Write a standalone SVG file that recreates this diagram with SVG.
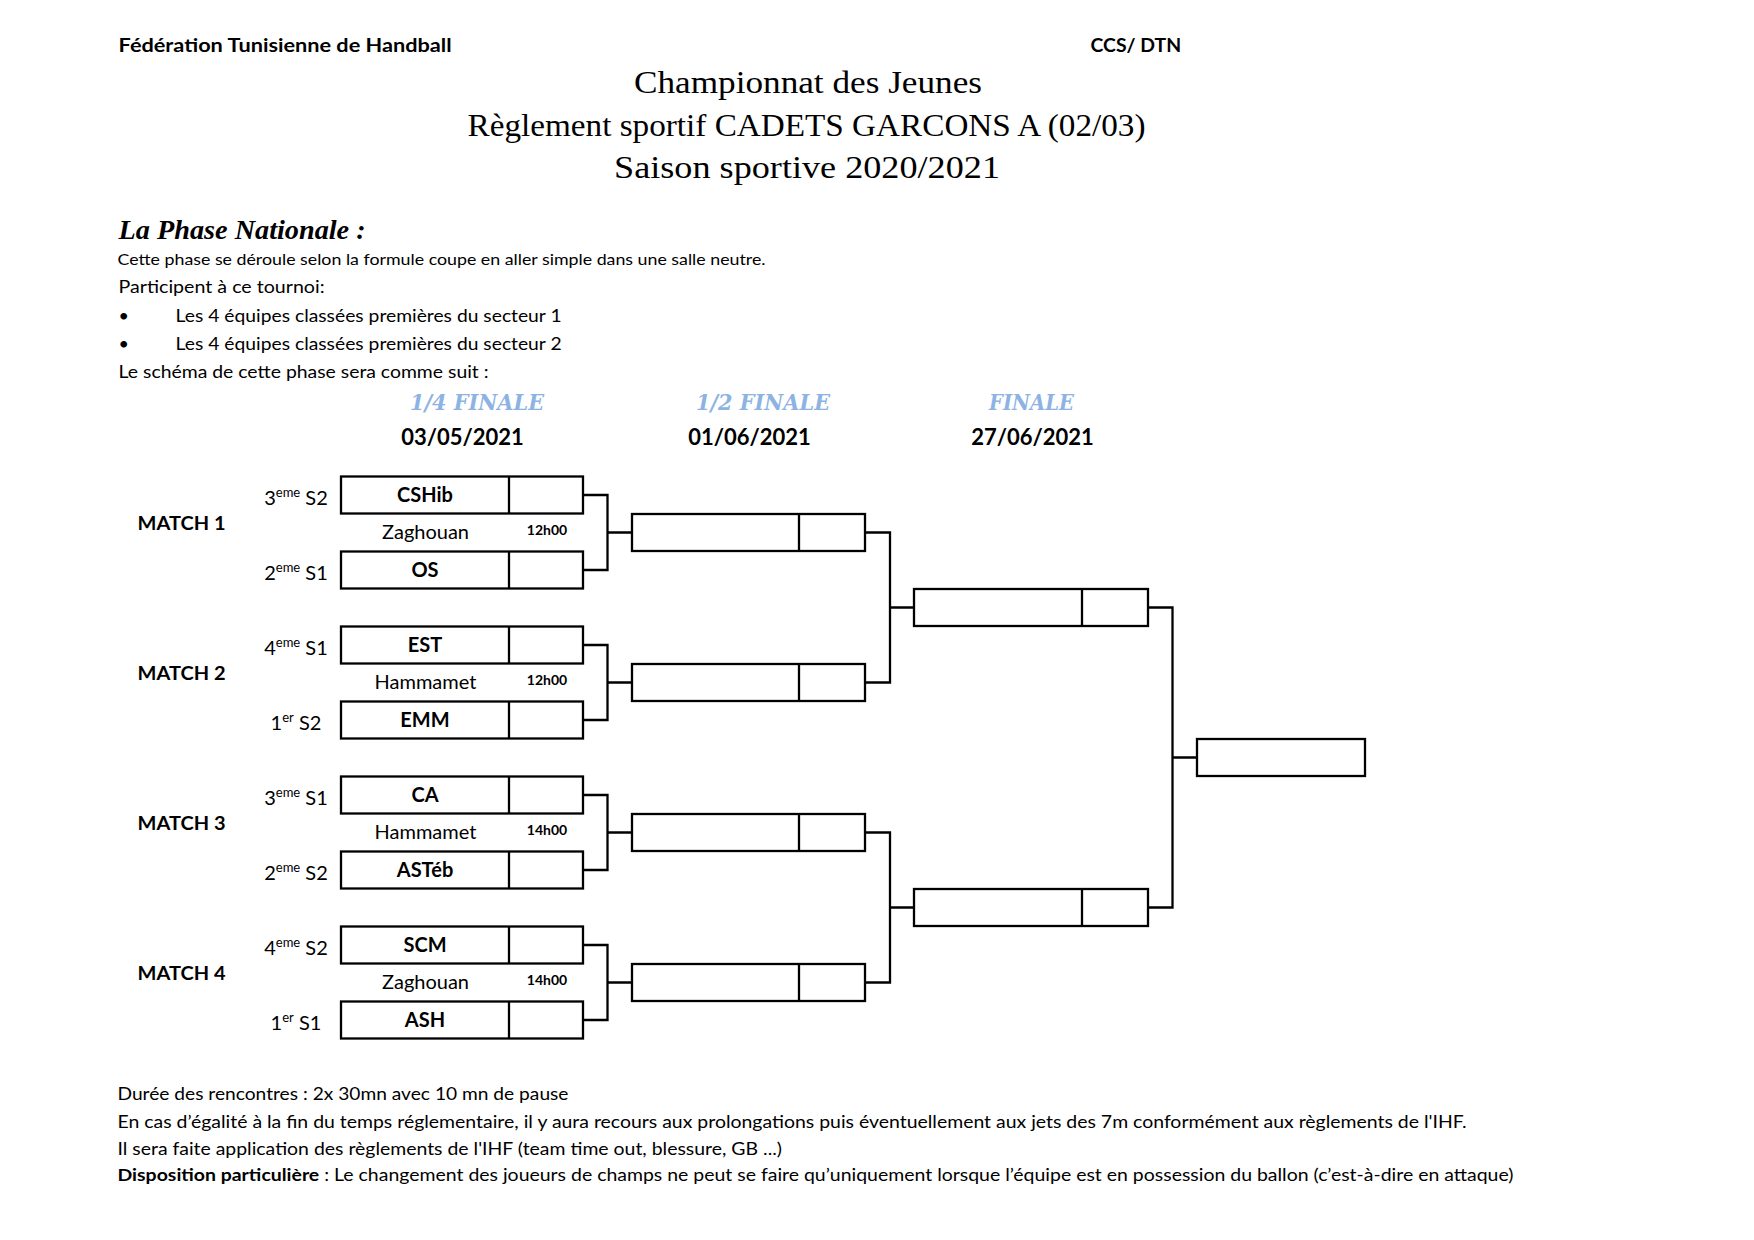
<svg xmlns="http://www.w3.org/2000/svg" width="1754" height="1240" viewBox="0 0 1754 1240">
<style>
.sans{font-family:Lato,"Liberation Sans",sans-serif;fill:#000}
.b{font-weight:700}
.serif{font-family:"Liberation Serif","DejaVu Serif",serif;fill:#000}
.hd{font-family:"DejaVu Serif","Liberation Serif",serif;font-weight:700;font-style:italic;fill:#8DB3E2}
.box{fill:#fff;stroke:#000;stroke-width:2.3}
.ln{fill:none;stroke:#000;stroke-width:2.3}
.team{font-family:Lato,"Liberation Sans",sans-serif;font-weight:700;font-size:20px;text-anchor:middle}
.seed{font-family:Lato,"Liberation Sans",sans-serif;font-size:20px;text-anchor:middle}
.sup{font-size:13px}
.venue{font-family:Lato,"Liberation Sans",sans-serif;font-size:20px;text-anchor:middle}
.time{font-family:Lato,"Liberation Sans",sans-serif;font-weight:700;font-size:14px;text-anchor:middle}
.match{font-family:Lato,"Liberation Sans",sans-serif;font-weight:700;font-size:19px}
.date{font-family:Lato,"Liberation Sans",sans-serif;font-weight:700;font-size:22px;text-anchor:middle}
</style>
<rect width="1754" height="1240" fill="#fff"/>

<g id="header">
<text class="sans b" x="118.6" y="51.5" font-size="19" textLength="333" lengthAdjust="spacingAndGlyphs">Fédération Tunisienne de Handball</text>
<text class="sans b" x="1090.6" y="51.5" font-size="19" textLength="90.6" lengthAdjust="spacingAndGlyphs">CCS/ DTN</text>
<text class="serif" x="808" y="93" font-size="31" text-anchor="middle" textLength="348" lengthAdjust="spacingAndGlyphs">Championnat des Jeunes</text>
<text class="serif" x="806.5" y="135.5" font-size="31" text-anchor="middle" textLength="678" lengthAdjust="spacingAndGlyphs">Règlement sportif CADETS GARCONS A (02/03)</text>
<text class="serif" x="807" y="178" font-size="31" text-anchor="middle" textLength="386" lengthAdjust="spacingAndGlyphs">Saison sportive 2020/2021</text>
</g>

<g id="intro">
<text class="serif" x="118.6" y="239" font-size="27" font-weight="700" font-style="italic" textLength="247" lengthAdjust="spacingAndGlyphs">La Phase Nationale :</text>
<text class="sans" x="117.5" y="265" font-size="16" textLength="648" lengthAdjust="spacingAndGlyphs">Cette phase se déroule selon la formule coupe  en aller  simple dans une salle neutre.</text>
<text class="sans" x="118.6" y="293" font-size="18" textLength="206" lengthAdjust="spacingAndGlyphs">Participent  à ce tournoi:</text>
<text class="sans" x="118.6" y="322" font-size="18">•</text>
<text class="sans" x="175.6" y="322" font-size="18" textLength="386" lengthAdjust="spacingAndGlyphs">Les 4 équipes classées premières du secteur 1</text>
<text class="sans" x="118.6" y="350" font-size="18">•</text>
<text class="sans" x="175.6" y="350" font-size="18" textLength="386" lengthAdjust="spacingAndGlyphs">Les 4 équipes classées premières du secteur 2</text>
<text class="sans" x="118.6" y="378" font-size="18" textLength="370" lengthAdjust="spacingAndGlyphs">Le schéma de cette phase sera comme suit :</text>
</g>

<g id="round-headers">
<text class="hd" x="477" y="410" font-size="22" text-anchor="middle" textLength="134" lengthAdjust="spacingAndGlyphs">1/4 FINALE</text>
<text class="hd" x="763" y="410" font-size="22" text-anchor="middle" textLength="134" lengthAdjust="spacingAndGlyphs">1/2 FINALE</text>
<text class="hd" x="1031.5" y="410" font-size="22" font-weight="400" text-anchor="middle" textLength="85" lengthAdjust="spacingAndGlyphs">FINALE</text>
<text class="date" x="462.5" y="445">03/05/2021</text>
<text class="date" x="749.5" y="445">01/06/2021</text>
<text class="date" x="1032.5" y="445">27/06/2021</text>
</g>

<g id="connectors">
<path class="ln" d="M583 495H607.5V570H583M607.5 532.5H632"/>
<path class="ln" d="M583 645H607.5V720H583M607.5 682.5H632"/>
<path class="ln" d="M583 795H607.5V870H583M607.5 832.5H632"/>
<path class="ln" d="M583 945H607.5V1020H583M607.5 982.5H632"/>
<path class="ln" d="M865 532.5H890V682.5H865M890 607.5H914"/>
<path class="ln" d="M865 832.5H890V982.5H865M890 907.5H914"/>
<path class="ln" d="M1148 607.5H1172.5V907.5H1148M1172.5 757.5H1197"/>
</g>

<g id="match1">
<text class="match" x="137.6" y="530" textLength="88" lengthAdjust="spacingAndGlyphs">MATCH 1</text>
<text class="venue" x="425.5" y="539">Zaghouan</text>
<text class="time" x="547" y="535">12h00</text>
</g>
<g id="match2">
<text class="match" x="137.6" y="680" textLength="88" lengthAdjust="spacingAndGlyphs">MATCH 2</text>
<text class="venue" x="425.5" y="689">Hammamet</text>
<text class="time" x="547" y="685">12h00</text>
</g>
<g id="match3">
<text class="match" x="137.6" y="830" textLength="88" lengthAdjust="spacingAndGlyphs">MATCH 3</text>
<text class="venue" x="425.5" y="839">Hammamet</text>
<text class="time" x="547" y="835">14h00</text>
</g>
<g id="match4">
<text class="match" x="137.6" y="980" textLength="88" lengthAdjust="spacingAndGlyphs">MATCH 4</text>
<text class="venue" x="425.5" y="989">Zaghouan</text>
<text class="time" x="547" y="985">14h00</text>
</g>

<g id="q1a"><text class="seed" x="296" y="505">3<tspan class="sup" dy="-8">eme</tspan><tspan dy="8"> S2</tspan></text><rect class="box" x="341" y="476.5" width="242" height="37"/><line class="ln" x1="509" y1="476.5" x2="509" y2="513.5"/><text class="team" x="425" y="502">CSHib</text></g>
<g id="q1b"><text class="seed" x="296" y="580">2<tspan class="sup" dy="-8">eme</tspan><tspan dy="8"> S1</tspan></text><rect class="box" x="341" y="551.5" width="242" height="37"/><line class="ln" x1="509" y1="551.5" x2="509" y2="588.5"/><text class="team" x="425" y="577">OS</text></g>
<g id="q2a"><text class="seed" x="296" y="655">4<tspan class="sup" dy="-8">eme</tspan><tspan dy="8"> S1</tspan></text><rect class="box" x="341" y="626.5" width="242" height="37"/><line class="ln" x1="509" y1="626.5" x2="509" y2="663.5"/><text class="team" x="425" y="652">EST</text></g>
<g id="q2b"><text class="seed" x="296" y="730">1<tspan class="sup" dy="-8">er</tspan><tspan dy="8"> S2</tspan></text><rect class="box" x="341" y="701.5" width="242" height="37"/><line class="ln" x1="509" y1="701.5" x2="509" y2="738.5"/><text class="team" x="425" y="727">EMM</text></g>
<g id="q3a"><text class="seed" x="296" y="805">3<tspan class="sup" dy="-8">eme</tspan><tspan dy="8"> S1</tspan></text><rect class="box" x="341" y="776.5" width="242" height="37"/><line class="ln" x1="509" y1="776.5" x2="509" y2="813.5"/><text class="team" x="425" y="802">CA</text></g>
<g id="q3b"><text class="seed" x="296" y="880">2<tspan class="sup" dy="-8">eme</tspan><tspan dy="8"> S2</tspan></text><rect class="box" x="341" y="851.5" width="242" height="37"/><line class="ln" x1="509" y1="851.5" x2="509" y2="888.5"/><text class="team" x="425" y="877">ASTéb</text></g>
<g id="q4a"><text class="seed" x="296" y="955">4<tspan class="sup" dy="-8">eme</tspan><tspan dy="8"> S2</tspan></text><rect class="box" x="341" y="926.5" width="242" height="37"/><line class="ln" x1="509" y1="926.5" x2="509" y2="963.5"/><text class="team" x="425" y="952">SCM</text></g>
<g id="q4b"><text class="seed" x="296" y="1030">1<tspan class="sup" dy="-8">er</tspan><tspan dy="8"> S1</tspan></text><rect class="box" x="341" y="1001.5" width="242" height="37"/><line class="ln" x1="509" y1="1001.5" x2="509" y2="1038.5"/><text class="team" x="425" y="1027">ASH</text></g>

<g id="s1"><rect class="box" x="632" y="514" width="233" height="37"/><line class="ln" x1="799" y1="514" x2="799" y2="551"/></g>
<g id="s2"><rect class="box" x="632" y="664" width="233" height="37"/><line class="ln" x1="799" y1="664" x2="799" y2="701"/></g>
<g id="s3"><rect class="box" x="632" y="814" width="233" height="37"/><line class="ln" x1="799" y1="814" x2="799" y2="851"/></g>
<g id="s4"><rect class="box" x="632" y="964" width="233" height="37"/><line class="ln" x1="799" y1="964" x2="799" y2="1001"/></g>

<g id="f1"><rect class="box" x="914" y="589" width="234" height="37"/><line class="ln" x1="1082" y1="589" x2="1082" y2="626"/></g>
<g id="f2"><rect class="box" x="914" y="889" width="234" height="37"/><line class="ln" x1="1082" y1="889" x2="1082" y2="926"/></g>

<g id="winner"><rect class="box" x="1197" y="739" width="168" height="37"/></g>

<g id="footer">
<text class="sans" x="117.5" y="1100" font-size="17" textLength="451" lengthAdjust="spacingAndGlyphs">Durée des rencontres : 2x 30mn avec 10 mn de pause</text>
<text class="sans" x="117.5" y="1127.5" font-size="17" textLength="1349" lengthAdjust="spacingAndGlyphs">En cas d’égalité à la fin du temps réglementaire, il y aura recours aux prolongations puis éventuellement aux jets des 7m conformément aux règlements de l'IHF.</text>
<text class="sans" x="117.5" y="1154.5" font-size="17" textLength="664.5" lengthAdjust="spacingAndGlyphs">Il sera faite application des règlements de l'IHF (team time out, blessure, GB ...)</text>
<text class="sans" x="117.5" y="1181" font-size="17" textLength="1396" lengthAdjust="spacingAndGlyphs"><tspan font-weight="700">Disposition particulière</tspan> : Le changement des joueurs de champs ne peut se faire qu’uniquement lorsque l’équipe est en possession du ballon (c’est-à-dire en attaque)</text>
</g>
</svg>
